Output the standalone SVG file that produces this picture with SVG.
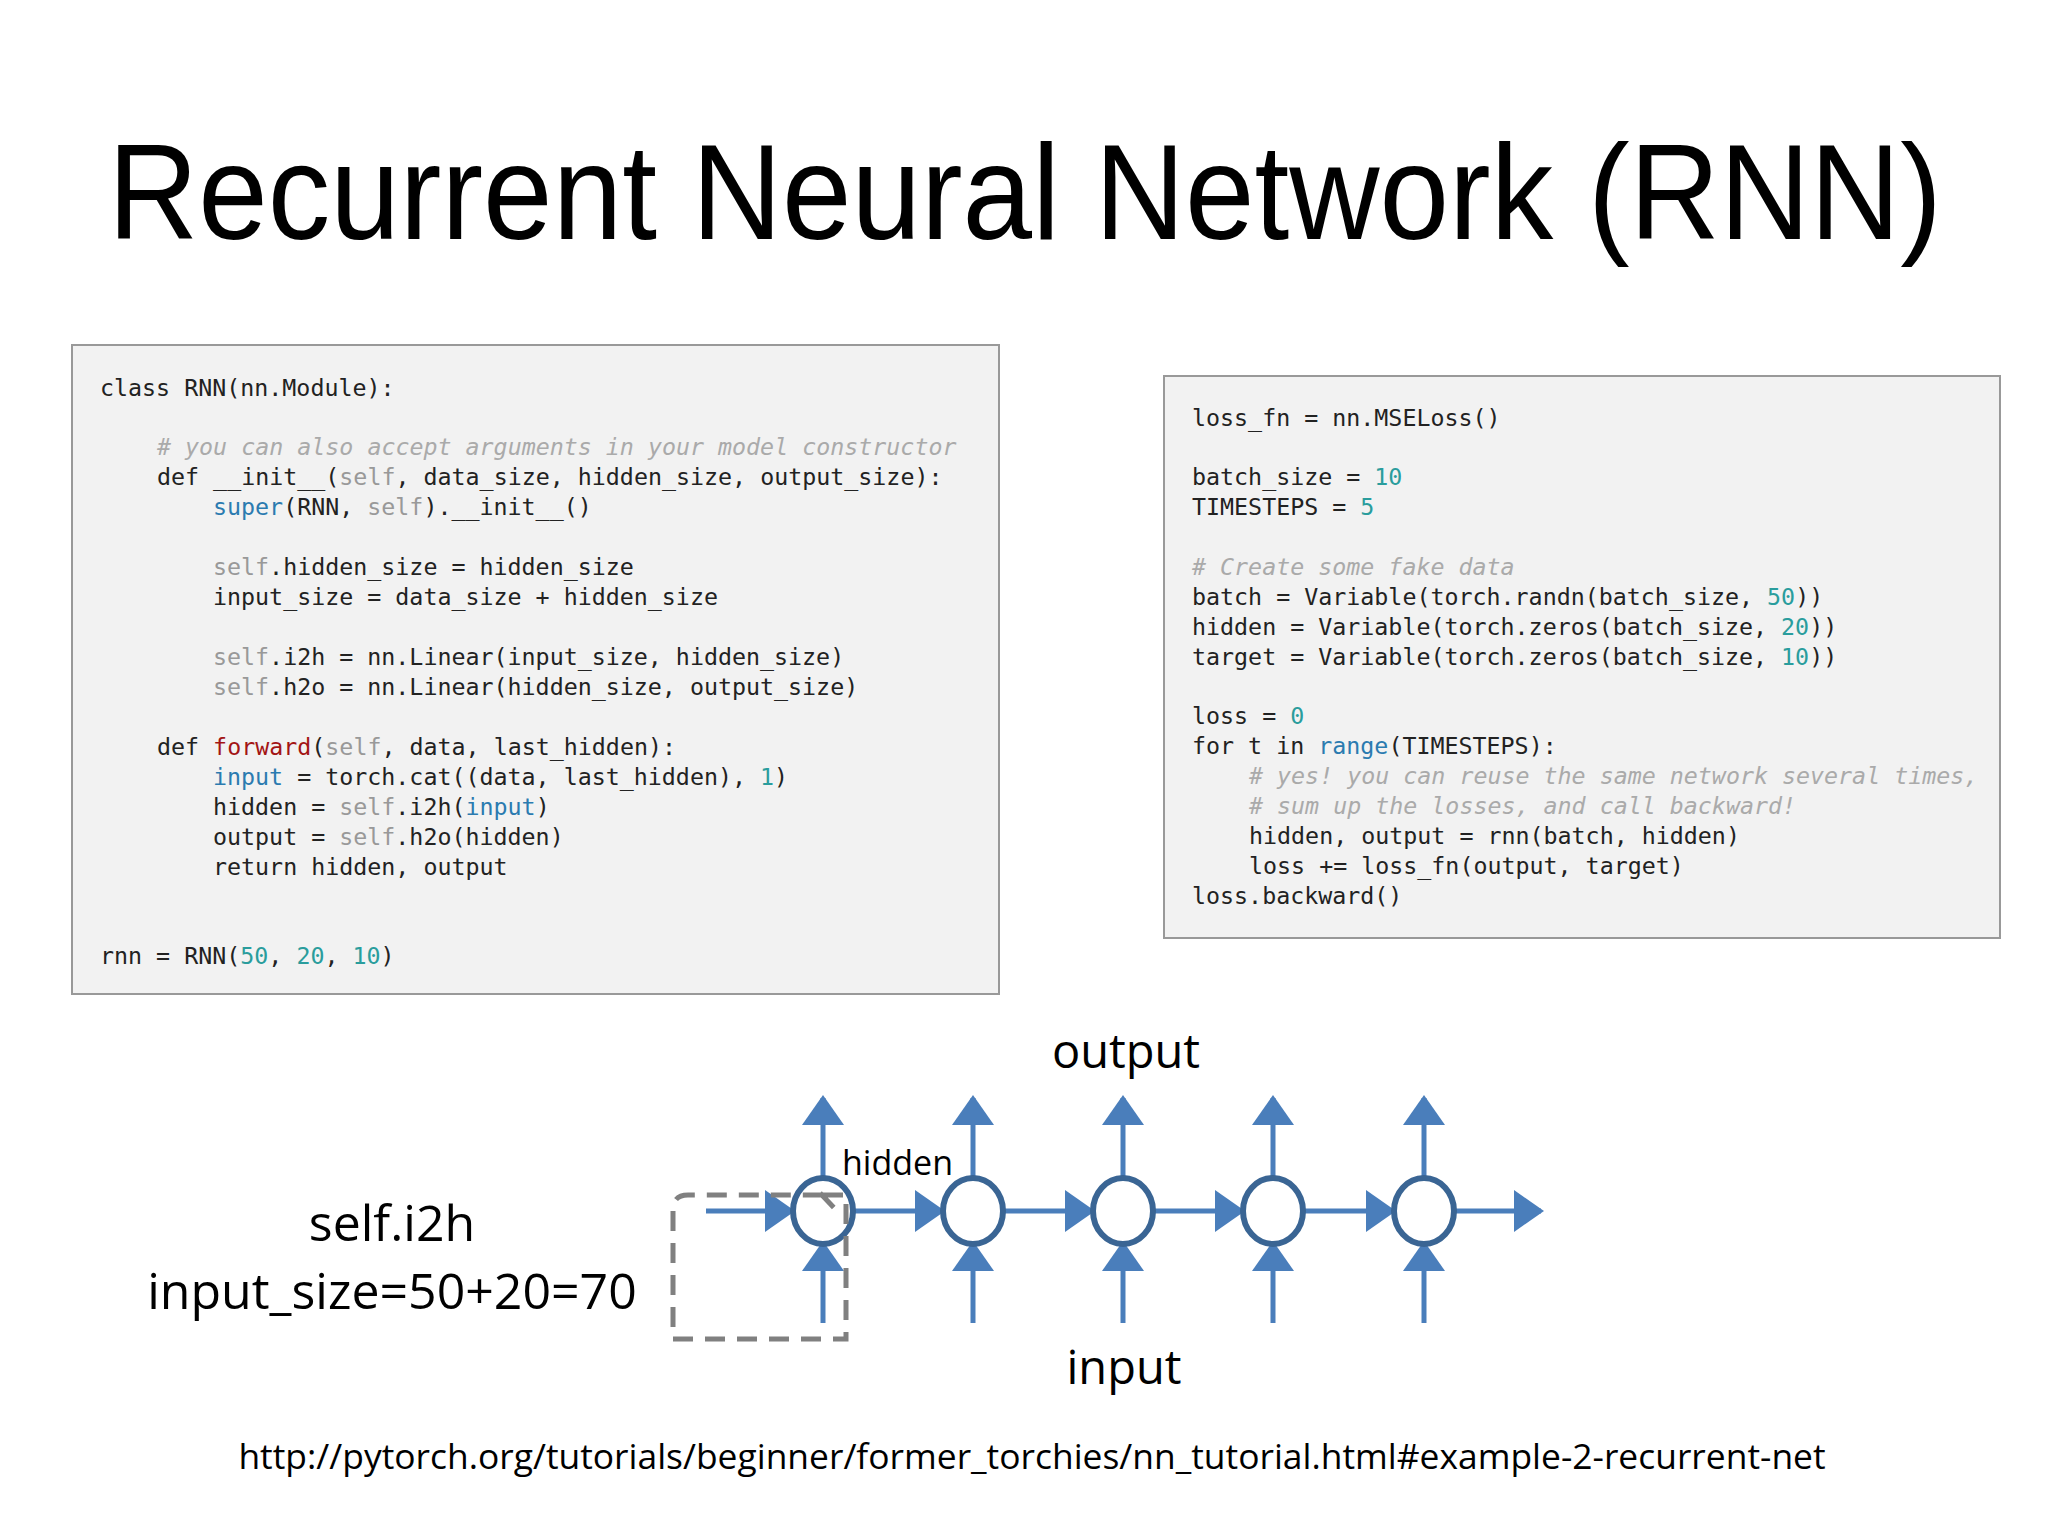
<svg xmlns="http://www.w3.org/2000/svg" width="2048" height="1536" viewBox="0 0 2048 1536">
<style>
.code{font-family:"DejaVu Sans Mono","Liberation Mono",monospace;font-size:23.3px;fill:#222}
.s{fill:#999}.k{fill:#1a1a1a}.b{fill:#2b7bb0}.n{fill:#2a9d9d}.r{fill:#a31515}.c{fill:#aaa;font-style:italic}
.lbl{font-family:"Open Sans","Liberation Sans",sans-serif;fill:#000}
.box{fill:#f2f2f2;stroke:#999;stroke-width:2}
.ln{stroke:#4a7ebb;stroke-width:5;fill:none}
.node{fill:#fff;stroke:#3a6594;stroke-width:6}
</style>
<defs>
<marker id="ah" viewBox="0 0 10 10" refX="9" refY="5" markerWidth="30" markerHeight="42" markerUnits="userSpaceOnUse" orient="auto" preserveAspectRatio="none">
<path d="M0,0 L10,5 L0,10 z" fill="#4a7ebb"/>
</marker>
</defs>
<rect width="2048" height="1536" fill="#fff"/>
<text x="1025" y="239" text-anchor="middle" font-family="Liberation Sans,Arial,sans-serif" font-size="136" textLength="1834" lengthAdjust="spacingAndGlyphs">Recurrent Neural Network (RNN)</text>

<g id="code-left">
<rect class="box" x="72" y="345" width="927" height="649"/>
<text class="code" x="100" y="396">class RNN(nn.Module):</text>
<text class="code c" x="157" y="455"># you can also accept arguments in your model constructor</text>
<text class="code" x="157" y="485">def __init__(<tspan class="s">self</tspan>, data_size, hidden_size, output_size):</text>
<text class="code" x="213" y="515"><tspan class="b">super</tspan>(RNN, <tspan class="s">self</tspan>).__init__()</text>
<text class="code" x="213" y="575"><tspan class="s">self</tspan>.hidden_size = hidden_size</text>
<text class="code" x="213" y="605">input_size = data_size + hidden_size</text>
<text class="code" x="213" y="665"><tspan class="s">self</tspan>.i2h = nn.Linear(input_size, hidden_size)</text>
<text class="code" x="213" y="695"><tspan class="s">self</tspan>.h2o = nn.Linear(hidden_size, output_size)</text>
<text class="code" x="157" y="755">def <tspan class="r">forward</tspan>(<tspan class="s">self</tspan>, data, last_hidden):</text>
<text class="code" x="213" y="785"><tspan class="b">input</tspan> = torch.cat((data, last_hidden), <tspan class="n">1</tspan>)</text>
<text class="code" x="213" y="815">hidden = <tspan class="s">self</tspan>.i2h(<tspan class="b">input</tspan>)</text>
<text class="code" x="213" y="845">output = <tspan class="s">self</tspan>.h2o(hidden)</text>
<text class="code" x="213" y="875">return hidden, output</text>
<text class="code" x="100" y="964">rnn = RNN(<tspan class="n">50</tspan>, <tspan class="n">20</tspan>, <tspan class="n">10</tspan>)</text>
</g>

<g id="code-right">
<rect class="box" x="1164" y="376" width="836" height="562"/>
<text class="code" x="1192" y="426">loss_fn = nn.MSELoss()</text>
<text class="code" x="1192" y="485">batch_size = <tspan class="n">10</tspan></text>
<text class="code" x="1192" y="515">TIMESTEPS = <tspan class="n">5</tspan></text>
<text class="code c" x="1192" y="575"># Create some fake data</text>
<text class="code" x="1192" y="605">batch = Variable(torch.randn(batch_size, <tspan class="n">50</tspan>))</text>
<text class="code" x="1192" y="635">hidden = Variable(torch.zeros(batch_size, <tspan class="n">20</tspan>))</text>
<text class="code" x="1192" y="665">target = Variable(torch.zeros(batch_size, <tspan class="n">10</tspan>))</text>
<text class="code" x="1192" y="724">loss = <tspan class="n">0</tspan></text>
<text class="code" x="1192" y="754">for t in <tspan class="b">range</tspan>(TIMESTEPS):</text>
<text class="code c" x="1249" y="784"># yes! you can reuse the same network several times,</text>
<text class="code c" x="1249" y="814"># sum up the losses, and call backward!</text>
<text class="code" x="1249" y="844">hidden, output = rnn(batch, hidden)</text>
<text class="code" x="1249" y="874">loss += loss_fn(output, target)</text>
<text class="code" x="1192" y="904">loss.backward()</text>
</g>

<g id="connectors">
<line class="ln" x1="823" y1="1178" x2="823" y2="1098" marker-end="url(#ah)"/>
<line class="ln" x1="973" y1="1178" x2="973" y2="1098" marker-end="url(#ah)"/>
<line class="ln" x1="1123" y1="1178" x2="1123" y2="1098" marker-end="url(#ah)"/>
<line class="ln" x1="1273" y1="1178" x2="1273" y2="1098" marker-end="url(#ah)"/>
<line class="ln" x1="1424" y1="1178" x2="1424" y2="1098" marker-end="url(#ah)"/>
<line class="ln" x1="823" y1="1323" x2="823" y2="1244" marker-end="url(#ah)"/>
<line class="ln" x1="973" y1="1323" x2="973" y2="1244" marker-end="url(#ah)"/>
<line class="ln" x1="1123" y1="1323" x2="1123" y2="1244" marker-end="url(#ah)"/>
<line class="ln" x1="1273" y1="1323" x2="1273" y2="1244" marker-end="url(#ah)"/>
<line class="ln" x1="1424" y1="1323" x2="1424" y2="1244" marker-end="url(#ah)"/>
<line class="ln" x1="706" y1="1211" x2="792" y2="1211" marker-end="url(#ah)"/>
<line class="ln" x1="854" y1="1211" x2="942" y2="1211" marker-end="url(#ah)"/>
<line class="ln" x1="1004" y1="1211" x2="1092" y2="1211" marker-end="url(#ah)"/>
<line class="ln" x1="1154" y1="1211" x2="1242" y2="1211" marker-end="url(#ah)"/>
<line class="ln" x1="1304" y1="1211" x2="1393" y2="1211" marker-end="url(#ah)"/>
<line class="ln" x1="1455" y1="1211" x2="1541" y2="1211" marker-end="url(#ah)"/>
</g>

<g id="nodes">
<ellipse id="n1" class="node" cx="823" cy="1211" rx="30" ry="33"/>
<ellipse id="n2" class="node" cx="973" cy="1211" rx="30" ry="33"/>
<ellipse id="n3" class="node" cx="1123" cy="1211" rx="30" ry="33"/>
<ellipse id="n4" class="node" cx="1273" cy="1211" rx="30" ry="33"/>
<ellipse id="n5" class="node" cx="1424" cy="1211" rx="30" ry="33"/>
</g>

<g id="dashed-box">
<path d="M823,1195 L846,1195 L846,1339 L673,1339 L673,1210 Q673,1195 688,1195 L823,1195 M820,1193 L838,1212" fill="none" stroke="#808080" stroke-width="5" stroke-dasharray="20,12"/>
</g>

<g id="labels">
<text class="lbl" x="1126" y="1068" font-size="47" text-anchor="middle">output</text>
<text class="lbl" x="1124" y="1384" font-size="47" text-anchor="middle">input</text>
<text class="lbl" x="842" y="1175" font-size="34">hidden</text>
<text class="lbl" x="392" y="1241" font-size="50" text-anchor="middle">self.i2h</text>
<text class="lbl" x="392" y="1309" font-size="50" text-anchor="middle">input_size=50+20=70</text>
<text class="lbl" x="1032" y="1469" font-size="35.4" text-anchor="middle">http://pytorch.org/tutorials/beginner/former_torchies/nn_tutorial.html#example-2-recurrent-net</text>
</g>
</svg>
